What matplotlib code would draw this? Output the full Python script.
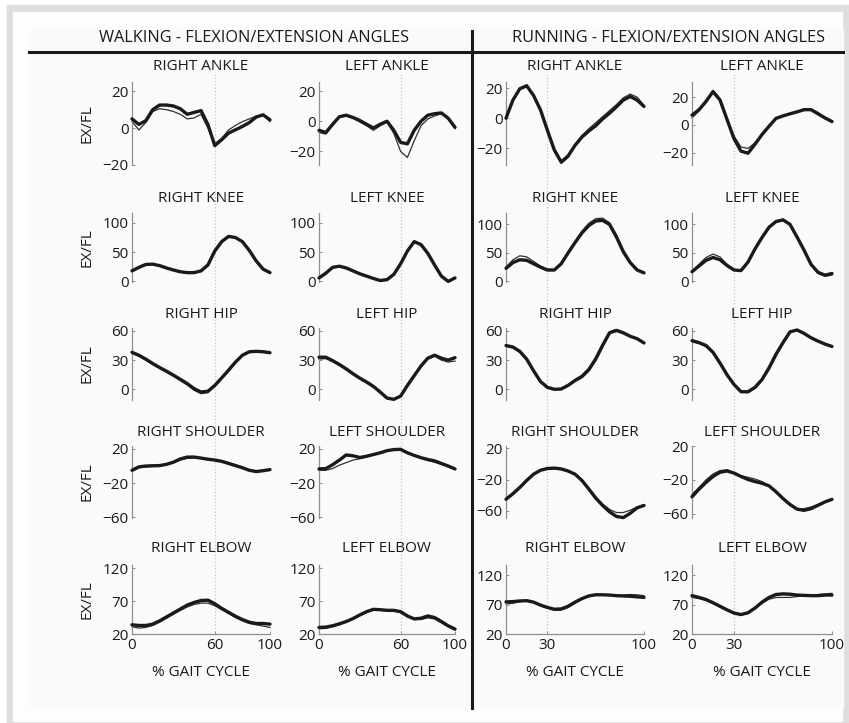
import matplotlib
matplotlib.use("Agg")
import matplotlib.pyplot as plt
import matplotlib.transforms as mtransforms
from matplotlib.lines import Line2D
from matplotlib.patches import Rectangle

plt.rcParams['font.family'] = ['Open Sans', 'DejaVu Sans']

# % gait cycle samples
gait = [0, 5, 10, 15, 20, 25, 30, 35, 40, 45, 50, 55, 60, 65, 70, 75, 80, 85, 90, 95, 100]

# ---- walking ----
walk_r_ankle = [5, 2, 4, 10, 12.5, 12.5, 12, 10.5, 7.5, 8.5, 9.5, 2, -9.5, -6.3, -2.7, -0.9, 0.9, 3, 6, 7.2, 4.5]
walk_r_ankle2 = [3.5, -1, 3, 9, 10.5, 10, 9, 7.5, 5, 5.5, 7.5, 0, -8.5, -5.5, -1, 1.5, 3.5, 5, 6.5, 7, 3.5]
walk_l_ankle = [-6, -7.5, -2, 3, 4, 2.5, 0.5, -2, -4.5, -2, 0, -6, -14, -15, -6, 0, 4, 5, 5.5, 2, -4]
walk_l_ankle2 = [-7.5, -8.5, -3, 2.5, 3.5, 2, -0.5, -3, -6, -3, -0.5, -8, -20, -24, -13, -3, 1.5, 3.5, 5, 1.5, -5]
walk_r_knee = [18, 24, 29, 29.5, 27, 23, 19.5, 16.5, 15, 15, 18, 28, 52, 68, 77, 75, 68, 53, 35, 21, 15]
walk_r_knee2 = [19, 25, 30, 30, 27.5, 23, 19, 16, 14.5, 15, 19, 30, 54, 70, 78, 76, 68, 52, 34, 20, 14]
walk_l_knee = [6, 14, 24, 26, 23, 18, 13, 9, 5, 1.5, 3, 12, 30, 52, 68, 63, 48, 28, 9, 0, 6]
walk_l_knee2 = [7, 15, 25, 27, 24, 19, 14, 10, 6, 2.5, 4, 13, 31, 53, 69, 64, 49, 29, 10, 1, 5]
walk_r_hip = [38, 35, 31, 26.5, 22.4, 18.6, 14.5, 10.3, 5.9, 0.7, -2.8, -2, 4, 11.7, 19.7, 28, 35, 38.6, 39, 38.6, 37.6]
walk_r_hip2 = [37, 34, 30, 25.5, 21.5, 17.5, 13.5, 9, 4.5, -1, -4.5, -3.5, 3, 11, 19, 27.5, 35, 38, 38.5, 38, 37]
walk_l_hip = [33, 33, 29.5, 25.5, 21, 16, 11.5, 7.5, 3, -2.8, -9, -10.3, -7, 4, 14, 24, 32, 35, 32, 30, 32.5]
walk_l_hip2 = [31, 31.5, 28.5, 24.5, 20, 15, 10.5, 6.5, 2, -3.5, -9.5, -10.5, -8, 2.5, 13, 23, 31, 34, 30, 28, 29]
walk_r_shoulder = [-5, -1, 0, 0.3, 0.5, 2, 4.5, 8.3, 10.5, 10.5, 9.3, 8, 7, 5.5, 3, 0.5, -2, -5, -6.5, -5.5, -4.2]
walk_r_shoulder2 = [-6, -2, -1, -0.5, 0, 1.5, 4, 7, 9, 9.5, 9, 8, 7, 6, 4, 1.5, -1.5, -4.5, -6, -5.5, -4.5]
walk_l_shoulder = [-3.4, -3, 1.5, 7, 13, 12, 10, 11.5, 13.5, 15.5, 18, 19.3, 19.6, 15.5, 12.5, 9.8, 7.7, 6, 3, 0, -3.4]
walk_l_shoulder2 = [-5, -5, -3, 1, 4, 7, 8.5, 10.5, 13, 15.5, 18, 19, 19, 16, 12, 9, 6.5, 4.5, 2, -1, -4]
walk_r_elbow = [34, 33, 33, 35, 40, 46, 52, 58, 64, 68, 71, 71.5, 66, 59, 53, 47, 42, 38, 36, 36, 35]
walk_r_elbow2 = [31, 29, 30, 33, 38, 44, 50, 56, 61, 65, 67, 67, 63, 57, 51, 45, 40, 36, 34, 32, 30]
walk_l_elbow = [30, 30.5, 32.5, 35.5, 39, 43.5, 49, 54, 57.5, 57, 56, 56, 54, 47.5, 43, 44, 47.5, 45, 39, 32.5, 27.5]
walk_l_elbow2 = [28, 28.5, 31, 34, 38, 42.5, 48, 53, 56, 56, 55.5, 55, 52.5, 46, 42, 42, 44.5, 43, 37, 31, 26]

# ---- running ----
run_r_ankle = [0, 12, 19.5, 21.5, 15, 5.5, -8, -21, -29, -25, -18, -12.5, -8.5, -5, -0.5, 3.3, 7.5, 12, 14.4, 12, 7.8]
run_r_ankle2 = [1, 12.5, 20, 22, 15.5, 5, -9, -22, -30, -26, -18, -11.5, -7, -3, 1, 5, 9, 13.5, 16, 14, 8.5]
run_l_ankle = [7, 11, 17, 24, 18, 4, -10, -19, -20.5, -14, -7, -1, 4.7, 6.5, 8, 9.4, 11, 11, 8, 5, 2.4]
run_l_ankle2 = [5, 10, 16, 25, 19, 5, -8, -16, -17, -13, -7, -1, 4.5, 6.5, 8, 9, 10.5, 11.5, 9, 5.5, 3]
run_r_knee = [23, 33, 38, 37, 31, 25, 20, 20, 31, 50, 68, 85, 98, 106, 107, 100, 78, 52, 33, 20, 15]
run_r_knee2 = [25, 38, 45, 43, 35, 27, 21, 21, 32, 52, 70, 88, 102, 110, 111, 103, 82, 55, 35, 21, 16]
run_l_knee = [17, 27, 37, 42, 38, 28, 20, 19, 34, 57, 77, 95, 105, 108, 100, 78, 55, 30, 16, 11, 14]
run_l_knee2 = [18, 30, 42, 48, 43, 30, 21, 18, 32, 56, 76, 94, 104, 107, 99, 77, 54, 29, 14, 9, 11]
run_r_hip = [45, 43.5, 39, 31, 19, 8, 2, 0, 0.3, 4, 9, 13, 20, 31, 45, 58, 60.5, 58, 54.5, 52, 47.6]
run_r_hip2 = [44, 42.5, 38, 30, 18, 7, 1.5, 0, 0.5, 4.5, 10, 14.5, 22, 33, 47, 59, 61.5, 59, 55, 52, 48]
run_l_hip = [50, 48, 45, 38, 27, 15, 5, -2.5, -2.5, 2, 10, 22, 36, 48, 59, 61, 57.5, 53, 49.5, 46.5, 44]
run_l_hip2 = [49, 47, 44, 37, 26, 14, 4, -3, -3.5, 1, 9, 20, 34, 47, 58.5, 61, 58, 53.5, 50, 47, 44.5]
run_r_shoulder = [-45, -38, -30, -21, -13, -8, -5.8, -5.3, -6.3, -9, -13, -21, -32, -43.5, -53, -61, -67, -68.5, -63, -56, -53]
run_r_shoulder2 = [-45, -37, -29, -20, -12.5, -7.5, -5.5, -5, -6, -8.5, -12.5, -20, -31, -42, -51, -58, -62, -62, -59, -55, -52]
run_l_shoulder = [-40, -31, -23, -16, -11, -9.5, -12, -16, -19.5, -22, -24, -27, -34, -42, -49, -54.5, -56, -54, -50, -46, -43]
run_l_shoulder2 = [-37, -29, -20, -13, -9, -8, -11, -15, -17, -19, -22, -27, -35, -43, -50, -54, -54, -52, -49, -46, -43]
run_r_elbow = [74.5, 75, 76, 76.5, 74, 69, 65, 62, 62.5, 67, 74, 80, 84.5, 86.5, 86.5, 86, 85, 84.5, 84, 83, 82]
run_r_elbow2 = [71, 72, 75, 76.5, 73, 68, 64, 60.5, 60.5, 65, 72, 79, 84, 86, 86.5, 86, 85.5, 86, 87, 86.5, 85]
run_l_elbow = [85, 82, 78.5, 73, 67, 61, 55.5, 53, 56, 64, 74, 82, 87, 88, 87.5, 86, 85.5, 85, 85, 86, 86]
run_l_elbow2 = [82, 80, 77, 72, 66, 60, 55, 52, 55, 63, 72, 79, 82, 82, 82, 83.5, 85, 86, 87, 88, 89]

titles = [["RIGHT ANKLE", "LEFT ANKLE", "RIGHT ANKLE", "LEFT ANKLE"],
          ["RIGHT KNEE", "LEFT KNEE", "RIGHT KNEE", "LEFT KNEE"],
          ["RIGHT HIP", "LEFT HIP", "RIGHT HIP", "LEFT HIP"],
          ["RIGHT SHOULDER", "LEFT SHOULDER", "RIGHT SHOULDER", "LEFT SHOULDER"],
          ["RIGHT ELBOW", "LEFT ELBOW", "RIGHT ELBOW", "LEFT ELBOW"]]

series = [[(walk_r_ankle, walk_r_ankle2), (walk_l_ankle, walk_l_ankle2), (run_r_ankle, run_r_ankle2), (run_l_ankle, run_l_ankle2)],
          [(walk_r_knee, walk_r_knee2), (walk_l_knee, walk_l_knee2), (run_r_knee, run_r_knee2), (run_l_knee, run_l_knee2)],
          [(walk_r_hip, walk_r_hip2), (walk_l_hip, walk_l_hip2), (run_r_hip, run_r_hip2), (run_l_hip, run_l_hip2)],
          [(walk_r_shoulder, walk_r_shoulder2), (walk_l_shoulder, walk_l_shoulder2), (run_r_shoulder, run_r_shoulder2), (run_l_shoulder, run_l_shoulder2)],
          [(walk_r_elbow, walk_r_elbow2), (walk_l_elbow, walk_l_elbow2), (run_r_elbow, run_r_elbow2), (run_l_elbow, run_l_elbow2)]]

ylims = [[(-20, 25), (-29, 26), (-31, 24), (-29, 31)],
         [(-1, 117), (-1, 117), (-1, 120), (-1, 120)],
         [(-11, 63), (-11, 63), (-11, 63), (-11, 63)],
         [(-61, 23.5), (-61, 23.5), (-69, 23), (-65, 20)],
         [(20, 125), (20, 125), (20, 137), (20, 137)]]
yticks = [[-20, 0, 20], [0, 50, 100], [0, 30, 60], [-60, -20, 20], [20, 70, 120]]
xticks_walk = [0, 60, 100]
xticks_run = [0, 30, 100]

W, H = 849, 723
fig = plt.figure(figsize=(W / 100, H / 100), dpi=100)
fig.patch.set_facecolor("white")

def fx(px):
    return px / W

def fy(py):
    return 1 - py / H

# frame
fig.add_artist(Rectangle((fx(7), 0), 1, fy(5), transform=fig.transFigure, color="#dedede", zorder=-5))
fig.add_artist(Rectangle((fx(13), fy(721)), fx(842) - fx(13), fy(12) - fy(721),
                         transform=fig.transFigure, color="#fdfdfd", zorder=-4))
fig.add_artist(Rectangle((fx(29), fy(707)), fx(843) - fx(29), fy(30) - fy(707),
                         transform=fig.transFigure, color="#fafafa", zorder=-3))

col_left = [132, 319, 506, 692]
col_width = [138, 136, 138, 140]
row_top = [82, 213, 328, 446, 565]
row_bot = [165, 282, 400, 518, 634]
title_y = [67, 198, 314, 432, 548]

spine_c = "#8f8f8f"
ink = "#1a1a1a"
txt = "#1a1a1a"

for r in range(5):
    for c in range(4):
        l, w = col_left[c], col_width[c]
        ax = fig.add_axes([fx(l), fy(row_bot[r]), w / W, (row_bot[r] - row_top[r]) / H])
        ax.patch.set_visible(False)
        main, alt = series[r][c]
        ax.plot(gait, alt, color="#303030", lw=0.9, clip_on=False, zorder=2)
        ax.plot(gait, main, color=ink, lw=2.4, clip_on=False, zorder=3,
                solid_joinstyle="round", solid_capstyle="round")
        ax.set_xlim(0, 100)
        ax.set_ylim(*ylims[r][c])
        ax.set_yticks(yticks[r])
        for s in ["top", "right"]:
            ax.spines[s].set_visible(False)
        ax.spines["left"].set_color(spine_c)
        ax.spines["left"].set_linewidth(0.9)
        ax.tick_params(axis="y", direction="in", length=2.5, width=0.7, color=spine_c,
                       labelsize=11, labelcolor=txt, pad=2.5)
        if r == 4:
            ax.spines["bottom"].set_color(spine_c)
            ax.spines["bottom"].set_linewidth(0.9)
            ax.set_xticks(xticks_walk if c < 2 else xticks_run)
            ax.tick_params(axis="x", direction="in", length=2.5, width=0.7, color=spine_c,
                           labelsize=11, labelcolor=txt, pad=3)
            fig.text(fx(l + w / 2), fy(673), "% GAIT CYCLE", ha="center", va="center",
                     fontsize=11, color=txt)
            mark = 60 if c < 2 else 30
            tr = mtransforms.blended_transform_factory(ax.transData, fig.transFigure)
            fig.add_artist(Line2D([mark, mark], [fy(74), fy(634)], transform=tr,
                                  color="#c4c4c4", lw=0.9, ls=":", zorder=-1))
        else:
            ax.spines["bottom"].set_visible(False)
            ax.set_xticks([])
        fig.text(fx(l + w / 2), fy(title_y[r]), titles[r][c], ha="center", va="center",
                 fontsize=11, color=txt)
        if c == 0:
            fig.text(fx(87), fy((row_top[r] + row_bot[r]) / 2), "EX/FL", rotation=90,
                     ha="center", va="center", fontsize=11, color=txt)

# headers and dividers
fig.text(fx(254), fy(38), "WALKING - FLEXION/EXTENSION ANGLES", ha="center", va="center",
         fontsize=11.7, color=txt)
fig.text(fx(669), fy(38), "RUNNING - FLEXION/EXTENSION ANGLES", ha="center", va="center",
         fontsize=11.7, color=txt)
fig.add_artist(Line2D([fx(29), fx(843)], [fy(52), fy(52)], transform=fig.transFigure,
                      color="#1a1a1a", lw=2.2))
fig.add_artist(Line2D([fx(472), fx(472)], [fy(31), fy(708)], transform=fig.transFigure,
                      color="#1a1a1a", lw=2.2))

fig.savefig("out.png", dpi=100)
